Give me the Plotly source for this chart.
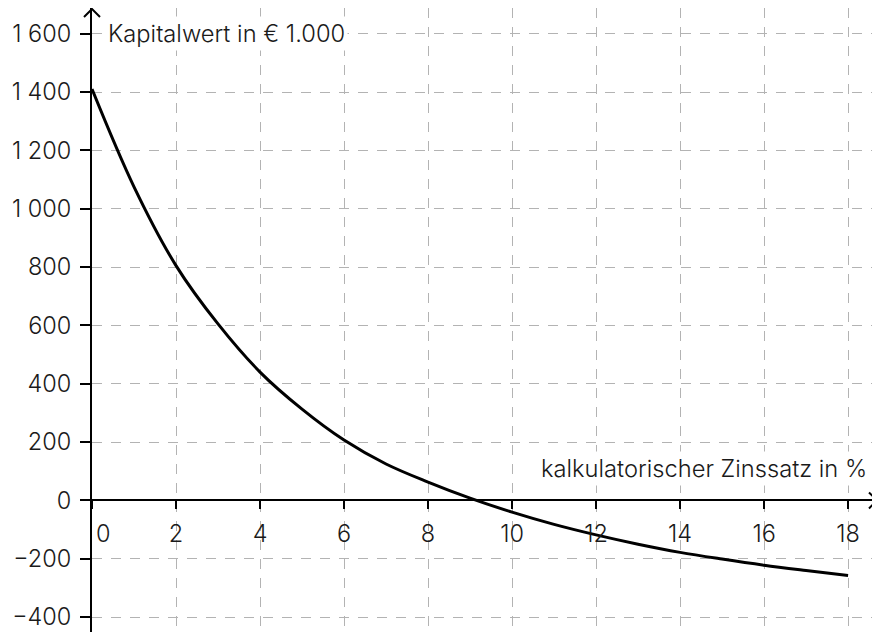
import plotly.graph_objects as go

# --- data ---
zinssatz = [0, 1, 2, 3, 4, 5, 6, 7, 8, 9, 10, 11, 12, 13, 14, 15, 16, 17, 18]
kapitalwert = [1410, 1075, 805, 605, 440, 313, 207, 125, 63, 8, -40, -82, -118, -150, -178, -201, -222, -240, -257]

x_tickvals = [0, 2, 4, 6, 8, 10, 12, 14, 16, 18]
x_ticktext = ["", "2", "4", "6", "8", "10", "12", "14", "16", "18"]
y_tickvals = [-400, -200, 0, 200, 400, 600, 800, 1000, 1200, 1400, 1600]
y_ticktext = ["\u2212400", "\u2212200", "0", "200", "400", "600", "800", "1 000", "1 200", "1 400", "1 600"]

x_title = "kalkulatorischer Zinssatz in %"
y_title = "Kapitalwert in \u20ac 1.000"

X_MIN, X_MAX = 0, 18.76
Y_MIN, Y_MAX = -451, 1688
X_POS = (0 - Y_MIN) / (Y_MAX - Y_MIN)

FONT = "Inter"
TXT = "#1a1a1a"
GRID = "#b3b3b3"
fnt = dict(family=FONT, size=23.5, color=TXT, weight=300)
tfnt = dict(family=FONT, size=23.7, color=TXT, weight=300)

fig = go.Figure()
fig.add_trace(go.Scatter(
    x=zinssatz, y=kapitalwert, mode="lines",
    line=dict(color="black", width=3, shape="spline", smoothing=1.0),
    hoverinfo="skip", showlegend=False,
))

# page body has an 8px margin: figure occupies 8..880 x 8..632 of the window
fig.update_layout(
    width=872, height=624,
    margin=dict(l=84, r=0, t=0, b=0),
    paper_bgcolor="white", plot_bgcolor="white",
    font=fnt,
    showlegend=False,
    xaxis=dict(
        range=[X_MIN, X_MAX], anchor="free", position=X_POS,
        tickvals=x_tickvals, ticktext=x_ticktext, tickfont=fnt,
        showline=True, linecolor="black", linewidth=2,
        ticks="outside", ticklen=8, tickwidth=2, tickcolor="black",
        ticklabelstandoff=4,
        showgrid=True, gridcolor=GRID, gridwidth=1, griddash="10px,9px",
        zeroline=False, fixedrange=True,
    ),
    yaxis=dict(
        range=[Y_MIN, Y_MAX],
        tickvals=y_tickvals, ticktext=y_ticktext, tickfont=fnt,
        showline=True, linecolor="black", linewidth=2,
        ticks="outside", ticklen=10, tickwidth=2, tickcolor="black",
        ticklabelstandoff=4,
        showgrid=True, gridcolor=GRID, gridwidth=1, griddash="10px,9px",
        zeroline=False, fixedrange=True,
    ),
    shapes=[
        # arrow head on y axis
        dict(type="path", xref="paper", yref="paper", xsizemode="pixel", ysizemode="pixel",
             xanchor=0, yanchor=1, path="M-8,-9 L0,-1 L8,-9",
             line=dict(color="black", width=2)),
        # arrow head on x axis
        dict(type="path", xref="paper", yref="paper", xsizemode="pixel", ysizemode="pixel",
             xanchor=1, yanchor=X_POS, path="M-11,8 L-3,0 L-11,-8",
             line=dict(color="black", width=2)),
    ],
    annotations=[
        dict(text=y_title, x=0, y=1600, xref="x", yref="y", xanchor="left", yanchor="middle",
             xshift=13, showarrow=False, bgcolor="white", borderpad=2, font=tfnt),
        dict(text=x_title, x=X_MAX, y=108, xref="x", yref="y", xanchor="right", yanchor="middle",
             xshift=-10, showarrow=False, bgcolor="white", borderpad=2, font=tfnt),
        dict(text="0", x=0, y=0, xref="x", yref="y", xanchor="left", yanchor="middle",
             xshift=2, yshift=-33, showarrow=False, font=fnt),
    ],
)

fig.write_html("out.html")
